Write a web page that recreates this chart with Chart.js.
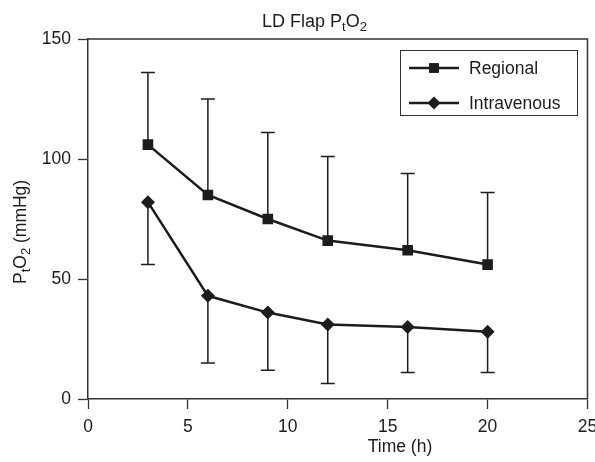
<!DOCTYPE html>
<html>
<head>
<meta charset="utf-8">
<script src="https://cdn.jsdelivr.net/npm/chart.js@4/dist/chart.umd.min.js"></script>
<style>
  body { margin: 0; background: #fff; }
</style>
</head>
<body>
<canvas id="ptoChart" width="595" height="462"></canvas>
<script>
// values
const times = [3, 6, 9, 12, 16, 20];
const regional = [106, 85, 75, 66, 62, 56];
const regionalSd = [30, 40, 36, 35, 32, 30];      // drawn upward
const intravenous = [82, 43, 36, 31, 30, 28];
const intravenousSd = [26, 28, 24, 24.5, 19, 17]; // drawn downward
const xTicks = [0, 5, 10, 15, 20, 25];
const yTicks = [0, 50, 100, 150];

const FONT = '"Liberation Sans", Arial, sans-serif';
const INK = '#1c1c1c';
Chart.defaults.font.family = FONT;
Chart.defaults.font.size = 17.5;
Chart.defaults.color = INK;

// error bars, drawn under the markers
const errorBars = {
    id: 'errorBars',
    beforeDatasetsDraw(chart) {
        const ctx = chart.ctx;
        const x = chart.scales.x, y = chart.scales.y;
        const sets = [[regional, regionalSd, 1], [intravenous, intravenousSd, -1]];
        ctx.save();
        ctx.strokeStyle = INK;
        ctx.lineWidth = 1.5;
        sets.forEach(([vals, sds, dir]) => {
            vals.forEach((v, i) => {
                const px = x.getPixelForValue(times[i]);
                const p0 = y.getPixelForValue(v);
                const p1 = y.getPixelForValue(v + dir * sds[i]);
                ctx.beginPath();
                ctx.moveTo(px, p0);
                ctx.lineTo(px, p1);
                ctx.moveTo(px - 7, p1);
                ctx.lineTo(px + 7, p1);
                ctx.stroke();
            });
        });
        ctx.restore();
    }
};

// write text with subscript parts: parts = [[text, isSub], ...]
function drawSubText(ctx, parts, x, y, size) {
    let cx = x;
    parts.forEach(([t, sub]) => {
        ctx.font = (sub ? Math.round(size * 0.72) : size) + 'px ' + FONT;
        ctx.fillText(t, cx, sub ? y + 4 : y);
        cx += ctx.measureText(t).width;
    });
}

const decorations = {
    id: 'decorations',
    afterDraw(chart) {
        const ctx = chart.ctx;
        const a = chart.chartArea;
        ctx.save();
        // top and right frame
        ctx.strokeStyle = '#333';
        ctx.lineWidth = 1.5;
        ctx.beginPath();
        ctx.moveTo(a.left, a.top);
        ctx.lineTo(a.right, a.top);
        ctx.lineTo(a.right, a.bottom);
        ctx.stroke();

        ctx.fillStyle = INK;
        ctx.textBaseline = 'alphabetic';
        ctx.textAlign = 'left';
        // title
        drawSubText(ctx, [['LD Flap P', false], ['t', true], ['O', false], ['2', true]], 262, 27, 18);
        // x title
        ctx.font = '17.5px ' + FONT;
        ctx.textAlign = 'center';
        ctx.fillText('Time (h)', 400, 452);
        // y title
        ctx.save();
        ctx.translate(26, 284);
        ctx.rotate(-Math.PI / 2);
        ctx.textAlign = 'left';
        drawSubText(ctx, [['P', false], ['t', true], ['O', false], ['2', true], [' (mmHg)', false]], 0, 0, 17.5);
        ctx.restore();

        // legend
        ctx.strokeStyle = '#333';
        ctx.lineWidth = 1;
        ctx.strokeRect(400.5, 50.5, 177, 65);
        const items = [['Regional', 'rect', 68], ['Intravenous', 'rectRot', 103]];
        items.forEach(([label, style, ly]) => {
            ctx.strokeStyle = INK;
            ctx.lineWidth = 2.5;
            ctx.beginPath();
            ctx.moveTo(409, ly);
            ctx.lineTo(459, ly);
            ctx.stroke();
            ctx.fillStyle = INK;
            Chart.helpers.drawPoint(ctx, { pointStyle: style, radius: style === 'rect' ? 7 : 6.5, borderWidth: 0 }, 434, ly);
            ctx.font = '17.5px ' + FONT;
            ctx.textAlign = 'left';
            ctx.textBaseline = 'middle';
            ctx.fillText(label, 469, ly + 1);
        });
        ctx.restore();
    }
};

const ctx = document.getElementById('ptoChart').getContext('2d');
new Chart(ctx, {
    type: 'line',
    data: {
        datasets: [{
            label: 'Regional',
            data: times.map((t, i) => ({ x: t, y: regional[i] })),
            borderColor: INK,
            backgroundColor: INK,
            borderWidth: 2.5,
            pointStyle: 'rect',
            pointRadius: 7.5,
            pointBorderWidth: 0,
            tension: 0
        }, {
            label: 'Intravenous',
            data: times.map((t, i) => ({ x: t, y: intravenous[i] })),
            borderColor: INK,
            backgroundColor: INK,
            borderWidth: 2.5,
            pointStyle: 'rectRot',
            pointRadius: 7,
            pointBorderWidth: 0,
            tension: 0
        }]
    },
    options: {
        responsive: false,
        animation: false,
        layout: { padding: { top: 39, right: 7, left: 0, bottom: 0 } },
        plugins: {
            legend: { display: false },
            title: { display: false },
            tooltip: { enabled: false }
        },
        scales: {
            x: {
                type: 'linear',
                min: 0,
                max: 25,
                afterFit: s => { s.height = 63; s.paddingLeft = 0; s.paddingRight = 0; },
                afterBuildTicks: s => { s.ticks = xTicks.map(v => ({ value: v })); },
                ticks: { padding: 8, color: INK },
                grid: { drawOnChartArea: false, tickLength: 10, tickColor: '#333', tickWidth: 1.3 },
                border: { color: '#333', width: 1.5 }
            },
            y: {
                min: 0,
                max: 150,
                afterFit: s => { s.width = 88; s.paddingTop = 0; s.paddingBottom = 0; },
                afterBuildTicks: s => { s.ticks = yTicks.map(v => ({ value: v })); },
                ticks: { padding: 7, color: INK },
                grid: { drawOnChartArea: false, tickLength: 10, tickColor: '#333', tickWidth: 1.3 },
                border: { color: '#333', width: 1.5 }
            }
        }
    },
    plugins: [errorBars, decorations]
});
</script>
</body>
</html>
